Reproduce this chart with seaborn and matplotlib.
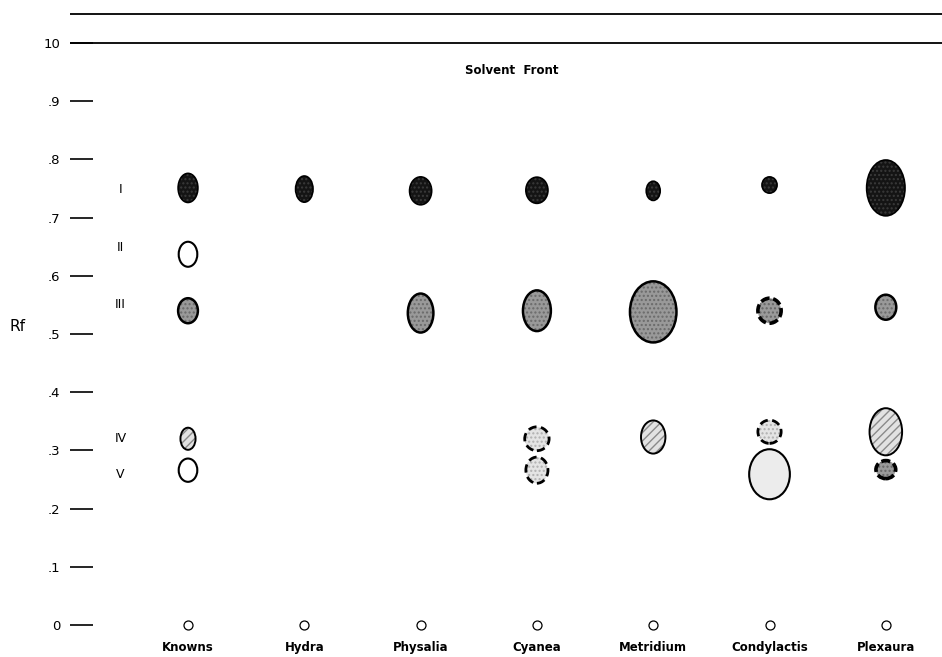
"""Paper chromatogram of coelenterate extracts: Rf of spots I-V per sample."""

import matplotlib.pyplot as plt
import numpy as np
import pandas as pd
import seaborn as sns
from matplotlib.patches import Ellipse

# ---------------------------------------------------------------------------
# DATA
# ---------------------------------------------------------------------------
samples = ["Knowns", "Hydra", "Physalia", "Cyanea", "Metridium", "Condylactis", "Plexaura"]
row_names = ["I", "II", "III", "IV", "V"]
row_label_rf = [0.749, 0.648, 0.550, 0.321, 0.258]

rf_ticks = [0.0, 0.1, 0.2, 0.3, 0.4, 0.5, 0.6, 0.7, 0.8, 0.9, 1.0]
rf_tick_labels = ["0", ".1", ".2", ".3", ".4", ".5", ".6", ".7", ".8", ".9", "10"]

# one entry per spot
spot_sample = ["Knowns", "Knowns", "Knowns", "Knowns", "Knowns",
               "Hydra",
               "Physalia", "Physalia",
               "Cyanea", "Cyanea", "Cyanea", "Cyanea",
               "Metridium", "Metridium", "Metridium",
               "Condylactis", "Condylactis", "Condylactis", "Condylactis",
               "Plexaura", "Plexaura", "Plexaura", "Plexaura"]
spot_rf = [0.751, 0.637, 0.540, 0.320, 0.266,
           0.749,
           0.746, 0.536,
           0.747, 0.540, 0.320, 0.266,
           0.746, 0.538, 0.323,
           0.756, 0.540, 0.332, 0.259,
           0.751, 0.546, 0.332, 0.267]
# spot size: width in lane units, height in Rf units
spot_w = [0.17, 0.16, 0.17, 0.13, 0.16,
          0.15,
          0.19, 0.22,
          0.19, 0.24, 0.21, 0.19,
          0.12, 0.40, 0.21,
          0.13, 0.20, 0.20, 0.35,
          0.33, 0.18, 0.28, 0.17]
spot_h = [0.050, 0.043, 0.043, 0.038, 0.040,
          0.045,
          0.048, 0.067,
          0.045, 0.070, 0.041, 0.045,
          0.033, 0.105, 0.057,
          0.028, 0.043, 0.040, 0.086,
          0.096, 0.043, 0.081, 0.031]
spot_kind = ["dark", "open", "gray", "stipple", "open",
             "dark",
             "dark", "gray",
             "dark", "gray", "dashed", "dashed",
             "dark", "gray", "stipple",
             "dark", "ragged", "dashed", "light",
             "dark", "gray", "stipple", "ragged"]

spots = pd.DataFrame({"sample": spot_sample, "rf": spot_rf, "w": spot_w,
                      "h": spot_h, "kind": spot_kind})
spots["lane"] = spots["sample"].map({s: i for i, s in enumerate(samples)})

# fill, hatch, hatch colour, outline style, outline width
STYLES = {
    "dark":    ("#141414", "....", "#3a3a3a", "solid", 1.2),
    "gray":    ("#999999", "....", "#6a6a6a", "solid", 1.8),
    "stipple": ("#e2e2e2", "////", "#8a8a8a", "solid", 1.4),
    "open":    ("white", None, None, "solid", 1.5),
    "dashed":  ("#e4e4e4", "....", "#b0b0b0", (0, (3, 1.6)), 2.0),
    "ragged":  ("#9a9a9a", "....", "#666666", (0, (2.5, 1.0)), 2.6),
    "light":   ("#ececec", None, None, "solid", 1.5),
}

# ---------------------------------------------------------------------------
# FIGURE
# ---------------------------------------------------------------------------
sns.set_style("white")
plt.rcParams["font.family"] = ["DejaVu Sans"]
plt.rcParams.update({"text.color": "black", "axes.labelcolor": "black",
                     "xtick.color": "black", "ytick.color": "black"})

fig = plt.figure(figsize=(9.42, 6.57), dpi=100)
ax = fig.add_axes([70 / 942, 22 / 657, 872 / 942, 635 / 657])
ax.set_xlim(-1.0146, 6.483)
ax.set_ylim(-0.0172, 1.0739)

for _, s in spots.iterrows():
    fill, hatch, hcol, ls, lw = STYLES[s["kind"]]
    ax.add_patch(Ellipse((s["lane"], s["rf"]), s["w"], s["h"],
                         facecolor=fill, edgecolor=hcol or fill, hatch=hatch,
                         linewidth=0, zorder=2))
    ax.add_patch(Ellipse((s["lane"], s["rf"]), s["w"], s["h"],
                         facecolor="none", edgecolor="black",
                         linestyle=ls, linewidth=lw, zorder=3))

# origin marks
origin = pd.DataFrame({"lane": np.arange(len(samples)), "rf": 0.0})
sns.scatterplot(data=origin, x="lane", y="rf", ax=ax, s=42, marker="o",
                facecolor="white", edgecolor="black", linewidth=0.9, zorder=3)

# solvent front and top of paper
ax.axhline(1.0, color="black", linewidth=1.3)
ax.axhline(1.05, color="black", linewidth=1.3)
ax.text(2.78, 0.952, "Solvent  Front", ha="center", va="center",
        fontsize=8.5, fontweight="bold")

# row names of the known spots
for name, rf in zip(row_names, row_label_rf):
    ax.text(-0.58, rf, name, ha="center", va="center", fontsize=9)

ax.set_yticks(rf_ticks)
ax.set_yticklabels(rf_tick_labels, fontsize=9.5)
ax.tick_params(axis="y", direction="in", length=16.5, width=1.2, pad=7, left=True)
ax.set_xticks(np.arange(len(samples)))
ax.set_xticklabels(samples, fontsize=8.5, fontweight="bold")
ax.tick_params(axis="x", length=0, pad=4)

ax.set_xlabel("")
ax.set_ylabel("Rf", rotation=0, fontsize=11)
ax.yaxis.set_label_coords(-0.06, 0.474)
for side in ax.spines.values():
    side.set_visible(False)

fig.savefig("out.png", dpi=100)
